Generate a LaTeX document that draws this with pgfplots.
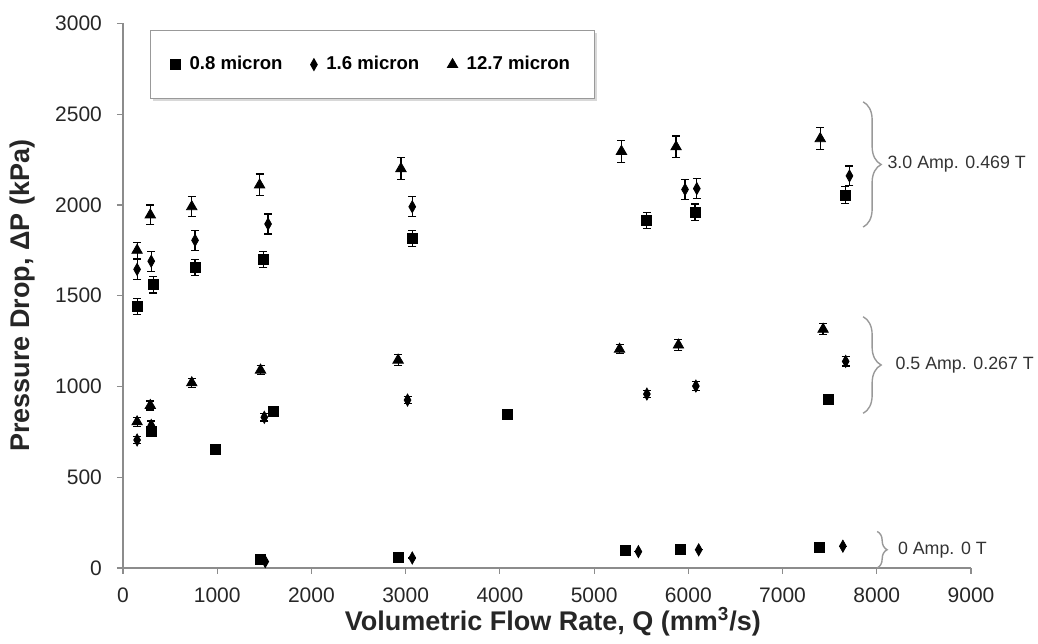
\documentclass[border=0pt]{standalone}
\usepackage{fontspec}
\setmainfont{Liberation Sans}
\usepackage{pgfplots}
\usepackage{pgfplotstable}
\pgfplotsset{compat=1.18}
\usetikzlibrary{decorations.pathreplacing,shadows}

\pgfplotstableread{
x y e
150 1440 45
320 1560 45
765 1655 45
1490 1700 45
3070 1815 45
5560 1915 45
6070 1960 45
7665 2055 45
300 750 20
980 655 20
1600 860 20
4080 848 20
7490 930 20
1460 45 0
2920 60 0
5330 95 0
5920 100 0
7390 115 0
}\sqdata

\pgfplotstableread{
x y e
150 1645 55
300 1690 55
765 1805 55
1540 1895 55
3070 1990 55
5965 2085 55
6090 2090 55
7710 2160 55
150 705 20
300 785 25
1500 830 20
3020 925 20
5560 958 20
6080 1002 25
7670 1138 25
1510 35 0
3070 55 0
5470 90 0
6110 100 0
7640 120 0
}\didata

\pgfplotstableread{
x y e
150 1750 45
290 1945 55
730 1990 55
1450 2110 60
2950 2200 60
5290 2295 60
5870 2320 60
7400 2365 60
150 805 25
290 895 25
730 1020 25
1460 1090 25
2920 1145 30
5270 1205 25
5895 1228 30
7430 1315 30
}\trdata

\begin{document}
\begin{tikzpicture}
\begin{axis}[
  scale only axis, width=424pt, height=272.25pt,
  xmin=0, xmax=9000, ymin=0, ymax=3000,
  xtick={0,1000,...,9000}, ytick={0,500,...,3000},
  axis x line=bottom, axis y line=left,
  axis line style={-, draw=black!45, line width=0.8pt},
  tick style={draw=black!45, line width=0.6pt},
  major tick length=3pt, tick align=outside,
  /pgf/number format/assume math mode=true,
  /pgf/number format/set thousands separator={},
  ticklabel style={font=\fontsize{10.5}{12}\selectfont, text=black!85},
  xticklabel style={yshift=-3.5pt},
  yticklabel style={xshift=-4pt},
  xlabel={Volumetric Flow Rate, Q (mm\textsuperscript{3}/s)},
  ylabel={Pressure Drop, ΔP (kPa)},
  label style={font=\bfseries\fontsize{13.5}{16}\selectfont, text=black!85},
  xlabel style={at={(rel axis cs:0.507,-0.099)}, anchor=center},
  ylabel style={at={(rel axis cs:-0.119,0.5)}, anchor=center},
  clip=false,
  legend columns=3,
  legend style={at={(rel axis cs:0.032,0.988)}, anchor=north west, draw=black!40, fill=white,
    font=\bfseries\fontsize{9.3}{11}\selectfont, inner xsep=10pt, inner ysep=11pt,
    /tikz/every even column/.append style={column sep=12pt},
    /tikz/every odd column/.append style={column sep=2.5pt},
    drop shadow={shadow xshift=1.2pt, shadow yshift=-1.2pt, fill=black!30}},
  legend image code/.code={\draw[mark repeat=2,mark phase=2] plot coordinates {(0pt,0pt)(3pt,0pt)(6pt,0pt)};},
]
\addplot[only marks, black, mark=square*, mark size=2.5pt,
  error bars/.cd, y dir=both, y explicit,
  error bar style={black, line width=0.6pt},
  error mark options={rotate=90, mark size=2pt, black, line width=0.6pt}]
  table[x=x, y=y, y error=e]{\sqdata};
\addlegendentry{0.8 micron}
\addplot[only marks, black, mark=diamond*, mark size=3pt, mark options={xscale=0.75},
  error bars/.cd, y dir=both, y explicit,
  error bar style={black, line width=0.6pt},
  error mark options={rotate=90, mark size=2pt, black, line width=0.6pt}]
  table[x=x, y=y, y error=e]{\didata};
\addlegendentry{1.6 micron}
\addplot[only marks, black, mark=triangle*, mark size=3pt,
  error bars/.cd, y dir=both, y explicit,
  error bar style={black, line width=0.6pt},
  error mark options={rotate=90, mark size=2pt, black, line width=0.6pt}]
  table[x=x, y=y, y error=e]{\trdata};
\addlegendentry{12.7 micron}

\draw[black!40, line width=0.7pt, decorate, decoration={brace, amplitude=9pt}]
  (axis cs:7855,2568) -- (axis cs:7855,1878);
\node[anchor=west, font=\fontsize{8.9}{10}\selectfont, text=black!80, inner sep=1pt]
  at (axis cs:8089,2223) {3.0 Amp. 0.469 T};
\draw[black!40, line width=0.7pt, decorate, decoration={brace, amplitude=9pt}]
  (axis cs:7855,1384) -- (axis cs:7855,852);
\node[anchor=west, font=\fontsize{8.9}{10}\selectfont, text=black!80, inner sep=1pt]
  at (axis cs:8174,1118) {0.5 Amp. 0.267 T};
\draw[black!40, line width=0.7pt, decorate, decoration={brace, amplitude=5pt}]
  (axis cs:8004,201) -- (axis cs:8004,0);
\node[anchor=west, font=\fontsize{8.9}{10}\selectfont, text=black!80, inner sep=1pt]
  at (axis cs:8200,100) {0 Amp. 0 T};
\path (rel axis cs:-0.145,-0.1396) rectangle (rel axis cs:1.079,1.043);
\end{axis}
\end{tikzpicture}
\end{document}
